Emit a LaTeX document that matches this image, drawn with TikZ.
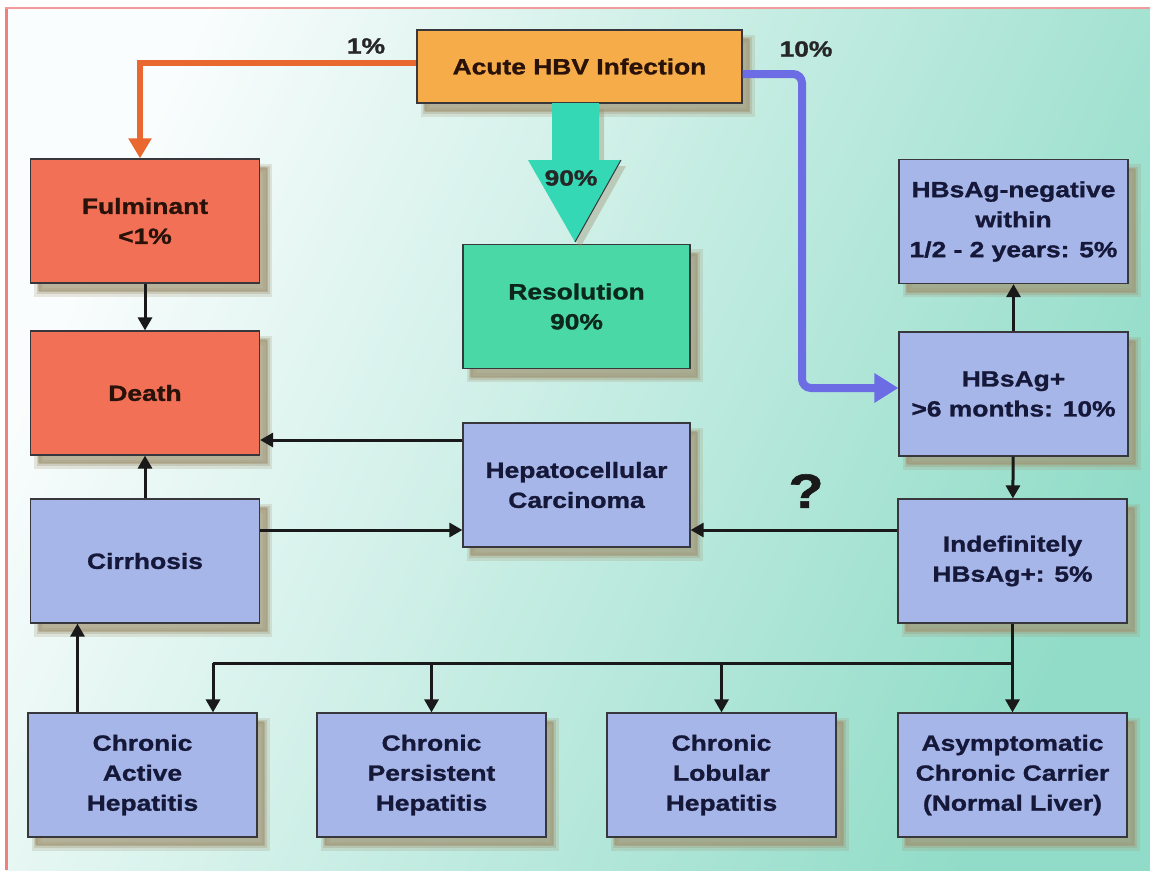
\documentclass[tikz,border=0pt]{standalone}
\usepackage{fontspec}
\setmainfont[FakeStretch=1.2,FakeBold=1.2]{Liberation Sans}
\usetikzlibrary{arrows.meta,shadows,calc}
\definecolor{bgA}{RGB}{250,253,253}
\definecolor{bgB}{RGB}{145,220,200}
\definecolor{framec}{RGB}{240,128,128}
\definecolor{boxblue}{RGB}{166,182,232}
\definecolor{boxred}{RGB}{242,112,86}
\definecolor{boxorange}{RGB}{246,172,72}
\definecolor{boxgreen}{RGB}{74,216,166}
\definecolor{arrgreen}{RGB}{52,216,180}
\definecolor{arrblue}{RGB}{108,108,228}
\definecolor{arrorange}{RGB}{232,104,48}
\definecolor{boxline}{RGB}{55,55,60}
\definecolor{shadowc}{RGB}{160,148,115}
\definecolor{navytext}{RGB}{22,24,58}
\definecolor{browntext}{RGB}{40,18,10}
\definecolor{greentext}{RGB}{12,40,28}
\begin{document}
\begin{tikzpicture}[x=1pt,y=-1pt,
  soft shadow/.style={
    drop shadow={shadow xshift=8pt, shadow yshift=-9pt, fill=shadowc, draw=shadowc, line width=9pt, opacity=0.22},
    drop shadow={shadow xshift=8pt, shadow yshift=-9pt, fill=shadowc, draw=shadowc, line width=4pt, opacity=0.3},
    drop shadow={shadow xshift=7pt, shadow yshift=-8pt, fill=shadowc, draw=none, opacity=0.45}},
  box/.style={draw=boxline, line width=1.2pt, minimum width=229pt, minimum height=124pt,
    align=center, inner sep=2pt, font=\bfseries\fontsize{22}{30}\selectfont, soft shadow},
  bluebox/.style={box, fill=boxblue, text=navytext},
  redbox/.style={box, fill=boxred, text=browntext},
  greenbox/.style={box, fill=boxgreen, text=greentext},
  orangebox/.style={box, fill=boxorange, text=browntext},
  lbl/.style={font=\bfseries\fontsize{22}{26}\selectfont, text=black!85, inner sep=0pt},
  arr/.style={draw=black!90, line width=3pt, -{Triangle[width=14pt,length=13pt]}},
  plain/.style={draw=black!90, line width=3pt},
  orangearr/.style={draw=arrorange, line width=6pt, -{Triangle[width=22pt,length=20pt]}},
  bluearr/.style={draw=arrblue, line width=8pt, rounded corners=9pt, -{Triangle[width=28pt,length=24pt]}}
]
\useasboundingbox (0,0) rectangle (1150,870);
% background
\fill[white] (0,0) rectangle (1150,870);
\shade[left color=bgA, right color=bgB, shading angle=65] (6,8) rectangle (1150,870);
\draw[framec, line width=3pt] (6,870) -- (6,8);
\draw[framec!80, line width=2pt] (5,8) -- (1150,8);

% nodes
\node[orangebox, minimum width=325pt, minimum height=73pt] (acute) at (579.5,66.5) {Acute HBV Infection};
\node[redbox] (fulm) at (145,221) {Fulminant\\<1\%};
\node[redbox] (death) at (145,393) {Death};
\node[bluebox] (cirr) at (145,561) {Cirrhosis};
\node[greenbox, minimum width=227pt] (resol) at (576.5,306.5) {Resolution\\90\%};
\node[bluebox, minimum width=227pt] (hcc) at (576.5,485) {Hepatocellular\\Carcinoma};
\node[bluebox] (neg) at (1013.5,221.5) {HBsAg-negative\\within\\1/2 - 2 years: 5\%};
\node[bluebox] (pos) at (1013.5,394) {HBsAg+\\>6 months: 10\%};
\node[bluebox] (indef) at (1012.5,561) {Indefinitely\\HBsAg+: 5\%};
\node[bluebox] (cah) at (142.5,775) {Chronic\\Active\\Hepatitis};
\node[bluebox] (cph) at (431.5,775) {Chronic\\Persistent\\Hepatitis};
\node[bluebox] (clh) at (721.5,775) {Chronic\\Lobular\\Hepatitis};
\node[bluebox] (asym) at (1012.5,775) {Asymptomatic\\Chronic Carrier\\(Normal Liver)};

% labels
\node[lbl] (l1) at (366,46) {1\%};
\node[lbl] (l10) at (806,49) {10\%};
\node[font=\bfseries\fontsize{48}{48}\selectfont, text=black!90, inner sep=0pt] (q) at (806,491) {?};

% green 90% arrow
\fill[arrgreen, drop shadow={shadow xshift=5pt, shadow yshift=-6pt, fill=shadowc, opacity=0.4}]
  (552,103) -- (599,103) -- (599,160) -- (621,160) -- (575,242) -- (528,160) -- (552,160) -- cycle;
\draw[boxline, line width=1pt] (621,160) -- (575,242);
\node[lbl] (l90) at (571,178) {90\%};

% connectors
\draw[orangearr] ([yshift=3.5pt]acute.west) -| ([xshift=-5pt]fulm.north);
\coordinate (b1) at (802,74);
\coordinate (b2) at (802,388);
\draw[bluearr] ([yshift=-7.5pt]acute.east) -- (b1) -- (b2) -- (b2 -| pos.west);

\draw[arr] (fulm) -- (death);
\draw[arr] (cirr) -- (death);
\draw[arr] ([yshift=45pt]hcc.west) -- ([yshift=45pt]hcc.west -| death.east);
\draw[arr] ([yshift=31pt]cirr.east) -- ([yshift=31pt]cirr.east -| hcc.west);
\draw[arr] ([yshift=31pt]indef.west) -- ([yshift=31pt]indef.west -| hcc.east);
\draw[arr] (pos) -- (neg);
\draw[arr] (pos) -- (indef);
\draw[arr] ([xshift=-65pt]cah.north) -- ([xshift=-65pt]cah.north |- cirr.south);

\coordinate (busR) at (1012.5,663);
\coordinate (busL) at (213,663);
\draw[arr] (indef) -- (asym);
\draw[plain] (busR) -- (busL);
\draw[arr] (busL) -- (busL |- cah.north);
\draw[arr] (busR -| cph.north) -- (cph.north);
\draw[arr] (busR -| clh.north) -- (clh.north);
\end{tikzpicture}
\end{document}
